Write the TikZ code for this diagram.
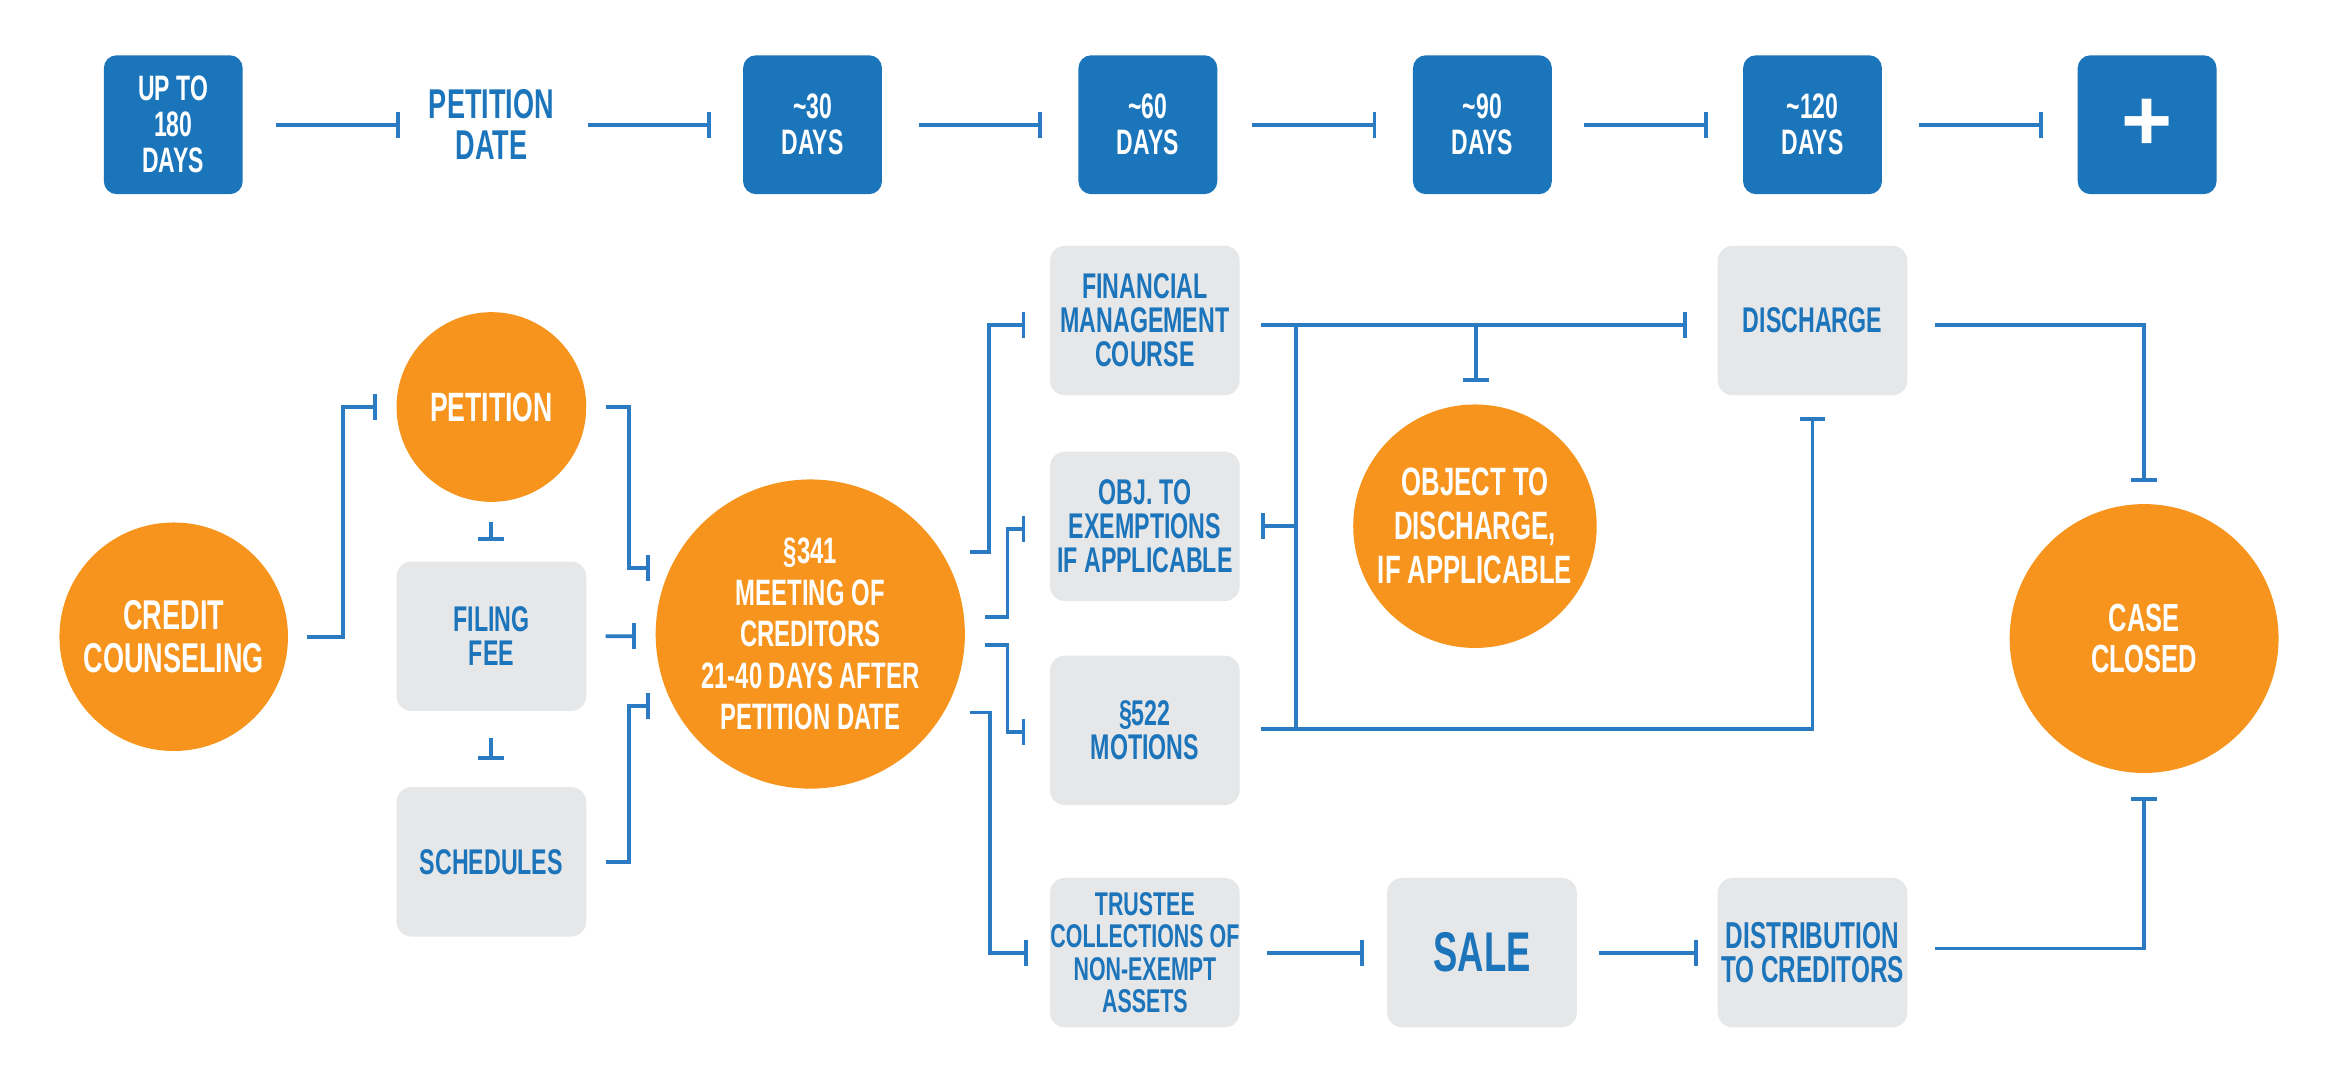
\documentclass[tikz,border=0pt]{standalone}
\usepackage{fontspec}
\setmainfont{Liberation Sans}[FakeStretch=0.65]
\newfontfamily\plusfont{Liberation Sans}
\usetikzlibrary{arrows.meta}
\definecolor{boxblue}{HTML}{1B75BB}
\definecolor{lineblue}{HTML}{2A7BC1}
\definecolor{txtblue}{HTML}{1C74BB}
\definecolor{orng}{HTML}{F7941D}
\definecolor{gbox}{HTML}{E6E7E8}
\begin{document}
\begin{tikzpicture}[x=0.15mm, y=-0.15mm,
  topbox/.style={fill=boxblue, rounded corners=1.3mm, minimum width=13.95mm, minimum height=13.95mm,
    text=white, align=center, inner sep=0pt, font=\bfseries\fontsize{10.1}{10.3}\selectfont},
  toptxt/.style={minimum width=13.95mm, minimum height=13.95mm, inner sep=0pt, align=center,
    text=txtblue, font=\bfseries\fontsize{11.9}{11.8}\selectfont},
  gbx/.style={fill=gbox, rounded corners=1.5mm, minimum width=19.05mm, minimum height=15mm,
    text=txtblue, align=center, inner sep=0pt, font=\bfseries\fontsize{10.2}{9.7}\selectfont},
  ocirc/.style={circle, fill=orng, text=white, align=center, inner sep=0pt},
  lin/.style={draw=lineblue, line width=1.1pt},
  conn/.style={lin, -{Bar[width=7.4pt]}}
]
\fill[white] (0,0) rectangle (1568,730);
\useasboundingbox (0,0) rectangle (1568,730);

% ---- top timeline ----
\node[topbox] (B1) at (116,83.5) {UP TO\\180\\DAYS};
\node[toptxt] (PD) at (329,83.5) {PETITION\\DATE};
\node[topbox] (B2) at (544,83.5) {\textasciitilde30\\DAYS};
\node[topbox] (B3) at (768.5,83.5) {\textasciitilde60\\DAYS};
\node[topbox] (B4) at (992.5,83.5) {\textasciitilde90\\DAYS};
\node[topbox] (B5) at (1213.5,83.5) {\textasciitilde120\\DAYS};
\node[topbox, font=\plusfont\bfseries\fontsize{25}{25}\selectfont] (B6) at (1437.5,83.5) {+};

\draw[conn] ([shift={(22,0)}]B1.east) -- ([shift={(-14.5,0)}]PD.west);
\draw[conn] ([shift={(18,0)}]PD.east) -- ([shift={(-21,0)}]B2.west);
\draw[conn] ([shift={(24,0)}]B2.east) -- ([shift={(-24,0)}]B3.west);
\draw[conn] ([shift={(23,0)}]B3.east) -- ([shift={(-24,0)}]B4.west);
\draw[conn] ([shift={(21,0)}]B4.east) -- ([shift={(-23,0)}]B5.west);
\draw[conn] ([shift={(24,0)}]B5.east) -- ([shift={(-23,0)}]B6.west);

% ---- process ----
\node[ocirc, minimum size=22.95mm, font=\bfseries\fontsize{11.9}{12.1}\selectfont] (CC) at (116.3,426.3) {CREDIT\\COUNSELING};
\node[ocirc, minimum size=19.05mm, font=\bfseries\fontsize{11.7}{12}\selectfont] (PET) at (329,272.5) {PETITION};
\node[gbx] (FF) at (329,426) {FILING\\FEE};
\node[gbx] (SCH) at (329,577) {SCHEDULES};
\node[ocirc, minimum size=31.05mm, font=\bfseries\fontsize{10.5}{11.9}\selectfont] (MEET) at (542.5,424.5)
  {§341\\MEETING OF\\CREDITORS\\21-40 DAYS AFTER\\PETITION DATE};
\node[gbx] (FM) at (766.5,214.6) {FINANCIAL\\MANAGEMENT\\COURSE};
\node[gbx] (OBJ) at (766.5,352.4) {OBJ. TO\\EXEMPTIONS\\IF APPLICABLE};
\node[gbx] (M522) at (766.5,489) {§522\\MOTIONS};
\node[gbx, font=\bfseries\fontsize{9.4}{9.2}\selectfont] (TRU) at (766.5,637.8) {TRUSTEE\\COLLECTIONS OF\\NON-EXEMPT\\ASSETS};
\node[gbx, font=\bfseries\fontsize{16}{16}\selectfont] (SALE) at (992.2,637.8) {SALE};
\node[gbx, font=\bfseries\fontsize{10.7}{9.8}\selectfont] (DIST) at (1213.5,637.8) {DISTRIBUTION\\TO CREDITORS};
\node[gbx] (DIS) at (1213.5,214.6) {DISCHARGE};
\node[ocirc, minimum size=24.45mm, font=\bfseries\fontsize{11.3}{12.6}\selectfont] (OD) at (987.5,352.3) {OBJECT TO\\DISCHARGE,\\IF APPLICABLE};
\node[ocirc, minimum size=27mm, font=\bfseries\fontsize{11.2}{11.6}\selectfont] (CASE) at (1435.5,427.5) {CASE\\CLOSED};

% connectors left part
\draw[conn] ([shift={(12,0)}]CC.east) -| ([shift={(-35.5,0)}]PET.west) -- ([shift={(-12.8,0)}]PET.west);
\draw[conn] ([shift={(12.5,0)}]PET.east) -| ([shift={(-121.5,-44.5)}]MEET.center) -- ([shift={(-107.5,-44.5)}]MEET.center);
\draw[conn] ([shift={(12.5,0)}]FF.east) -- ([shift={(-117,1.5)}]MEET.center);
\draw[conn] ([shift={(12.5,0)}]SCH.east) -| ([shift={(-121.5,48)}]MEET.center) -- ([shift={(-107.5,48)}]MEET.center);
\draw[conn] ([shift={(0,13)}]PET.south) -- ([shift={(0,-13.2)}]FF.north);
\draw[conn] ([shift={(0,17.4)}]FF.south) -- ([shift={(0,-17.5)}]SCH.north);

% from meeting
\draw[conn] ([shift={(107,-55)}]MEET.center) -| ([shift={(-40.5,3)}]FM.west) -- ([shift={(-16,3)}]FM.west);
\draw[conn] ([shift={(117,-11.5)}]MEET.center) -| ([shift={(-28,1.6)}]OBJ.west) -- ([shift={(-16,1.6)}]OBJ.west);
\draw[conn] ([shift={(117,7.5)}]MEET.center) -| ([shift={(-28,1)}]M522.west) -- ([shift={(-16,1)}]M522.west);
\draw[conn] ([shift={(107,52.5)}]MEET.center) -| ([shift={(-39.5,0)}]TRU.west) -- ([shift={(-14.2,0)}]TRU.west);

% bracket to discharge
\draw[conn] ([shift={(13.5,3)}]FM.east) -- ([shift={(-20,3)}]DIS.west);
\draw[lin] ([shift={(37,3)}]FM.east) -- ([shift={(37,-0.7)}]M522.east);
\draw[conn] ([shift={(13.5,-0.7)}]M522.east) -| ([shift={(0,14)}]DIS.south);
\draw[conn] ([shift={(0.5,-53)}]OD.north) -- ([shift={(0.5,-14.5)}]OD.north);
\draw[conn] ([shift={(37,0)}]OBJ.east) -- ([shift={(14,0)}]OBJ.east);

% bottom chain
\draw[conn] ([shift={(17.5,0)}]TRU.east) -- ([shift={(-15,0)}]SALE.west);
\draw[conn] ([shift={(14.3,0)}]SALE.east) -- ([shift={(-13,0)}]DIST.west);

% to case closed
\draw[conn] ([shift={(18,3)}]DIS.east) -| ([shift={(0,-14.5)}]CASE.north);
\draw[conn] ([shift={(18,-2.8)}]DIST.east) -| ([shift={(0,15.5)}]CASE.south);
\end{tikzpicture}
\end{document}
